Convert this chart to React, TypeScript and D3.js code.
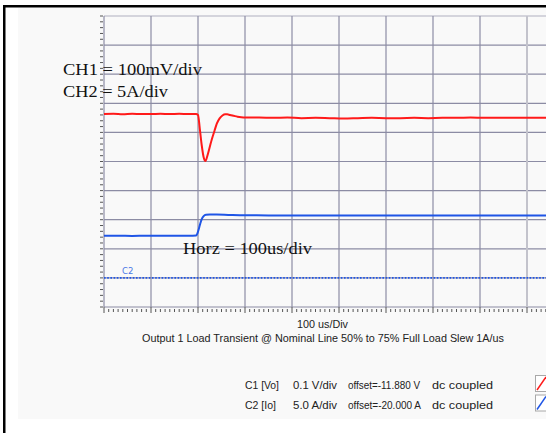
import React from "react";
import * as d3 from "d3";

const W = 546;
const H = 433;

// time in microseconds (100 us/div)
const redTime = [0, 20, 40, 60, 80, 100, 120, 140, 160, 180, 196, 200, 204, 208, 212, 216, 220, 225, 229, 235, 240, 246, 252, 258, 262, 268, 276, 284, 292, 300, 330, 360, 390, 420, 450, 480, 510, 540, 570, 600, 630, 660, 690, 720, 750, 780, 810, 840, 870, 900, 950, 1000];
const redVolt = [12.043, 12.044, 12.042, 12.044, 12.043, 12.043, 12.044, 12.043, 12.044, 12.043, 12.043, 12.040, 11.99, 11.935, 11.895, 11.882, 11.9, 11.93, 11.954, 11.985, 12.01, 12.028, 12.038, 12.042, 12.042, 12.04, 12.037, 12.034, 12.032, 12.031, 12.031, 12.03, 12.031, 12.029, 12.03, 12.029, 12.028, 12.029, 12.03, 12.029, 12.029, 12.03, 12.029, 12.03, 12.03, 12.031, 12.03, 12.03, 12.03, 12.03, 12.03, 12.03];

const blueTime = [0, 30, 60, 90, 120, 150, 180, 196, 199, 202, 205, 208, 212, 217, 225, 240, 270, 300, 350, 400, 450, 500, 550, 600, 650, 700, 750, 800, 850, 900, 950, 1000];
const blueAmp = [7.25, 7.25, 7.22, 7.25, 7.24, 7.25, 7.26, 7.3, 7.7, 8.5, 9.4, 10.1, 10.6, 10.85, 10.9, 10.88, 10.8, 10.75, 10.74, 10.72, 10.73, 10.72, 10.74, 10.73, 10.72, 10.73, 10.74, 10.73, 10.72, 10.73, 10.73, 10.73];

const ch1Center = 11.88; // V at screen centre
const ch1PerDiv = 0.1;
const ch2Center = 20; // A at screen centre
const ch2PerDiv = 5;

const legendRows = [
  { ch: "C1 [Vo]", scale: "0.1 V/div", offset: "offset=-11.880 V", coupling: "dc coupled", color: "#ff1a1a", chLen: 34, offLen: 72 },
  { ch: "C2 [Io]", scale: "5.0 A/div", offset: "offset=-20.000 A", coupling: "dc coupled", color: "#1f55e6", chLen: 31, offLen: 73 },
];

const annotations = [
  { text: "CH1 = 100mV/div", x: 63, y: 74.5, len: 139 },
  { text: "CH2 = 5A/div", x: 63, y: 96.5, len: 105 },
  { text: "Horz = 100us/div", x: 183, y: 254, len: 129 },
];

export default function App() {
  const left = 104;
  const top = 16;
  const bottom = 307;
  const divW = 47;
  const divs = 10;

  const x = d3.scaleLinear().domain([0, 1000]).range([left, left + divW * 10]);
  const yDiv = d3.scaleLinear().domain([0, divs]).range([bottom, top]);
  const yV = d3.scaleLinear().domain([ch1Center - 5 * ch1PerDiv, ch1Center + 5 * ch1PerDiv]).range([bottom, top]);
  const yA = d3.scaleLinear().domain([ch2Center - 5 * ch2PerDiv, ch2Center + 5 * ch2PerDiv]).range([bottom, top]);

  const redLine = d3.line<number>().x((_, i) => x(redTime[i])).y((v) => yV(v)).curve(d3.curveMonotoneX);
  const blueLine = d3.line<number>().x((_, i) => x(blueTime[i])).y((v) => yA(v)).curve(d3.curveMonotoneX);

  const vTicks = d3.range(0, 11).map((i) => i * 100);
  const hTicks = d3.range(0, 11);
  const xMinor = d3.range(0, 1000, 10);
  const yMinor = d3.range(0, 10.001, 0.2);

  const gridColor = "#8c8ca4";
  const tickColor = "#555";

  return (
    <svg width={W} height={H} style={{ position: "absolute", left: 0, top: 0, display: "block", background: "#fff" }}>
      {/* panel */}
      <rect x={18} y={8} width={W - 18} height={411} fill="#f9f9f9" />
      {/* frame */}
      <rect x={3} y={5} width={W - 3} height={2.5} fill="#000" />
      <rect x={3} y={5} width={2.5} height={H - 5} fill="#000" />

      {/* grid */}
      <clipPath id="plotclip">
        <rect x={left - 6} y={top - 1} width={W - left + 6} height={bottom - top + 8} />
      </clipPath>
      <g clipPath="url(#plotclip)">
        {hTicks.map((d) => (
          <line key={"h" + d} x1={left} x2={W} y1={yDiv(d)} y2={yDiv(d)} stroke={d === 10 ? "#b0b0c0" : gridColor} strokeWidth={1.2} />
        ))}
        {vTicks.map((t) => (
          <line key={"v" + t} x1={x(t)} x2={x(t)} y1={top} y2={bottom} stroke={t === 900 ? "#c3c3cc" : gridColor} strokeWidth={t === 900 ? 2 : 1.2} />
        ))}
        {/* left axis minor ticks */}
        {yMinor.map((d, i) => (
          <line key={"ym" + i} x1={100} x2={103} y1={yDiv(d)} y2={yDiv(d)} stroke={tickColor} strokeWidth={1} />
        ))}
        {/* bottom axis ticks */}
        {xMinor.map((t) => (
          <line key={"xm" + t} x1={x(t)} x2={x(t)} y1={t % 100 === 0 ? bottom : 309} y2={t % 100 === 0 ? 313 : 312} stroke={tickColor} strokeWidth={1} />
        ))}

        {/* C2 ground marker */}
        <line x1={left} x2={W} y1={yA(0)} y2={yA(0)} stroke="#1f55e6" strokeWidth={1.6} strokeDasharray="1.6 1.6" />

        {/* traces */}
        <path d={redLine(redVolt) || ""} fill="none" stroke="#ff1a1a" strokeWidth={2} strokeLinejoin="round" />
        <path d={blueLine(blueAmp) || ""} fill="none" stroke="#1f55e6" strokeWidth={2} strokeLinejoin="round" />
      </g>
      <text x={122} y={274} fontFamily="DejaVu Sans, sans-serif" fontSize={8.5} fill="#4a78e6">C2</text>

      {/* annotations */}
      {annotations.map((a) => (
        <text key={a.text} x={a.x} y={a.y} fontFamily="Liberation Serif, serif" fontSize={17} fill="#111" textLength={a.len} lengthAdjust="spacingAndGlyphs">
          {a.text}
        </text>
      ))}

      {/* axis captions */}
      <text x={322.5} y={328} textAnchor="middle" fontFamily="Liberation Sans, sans-serif" fontSize={11} fill="#222" textLength={51} lengthAdjust="spacingAndGlyphs">100 us/Div</text>
      <text x={323} y={342} textAnchor="middle" fontFamily="Liberation Sans, sans-serif" fontSize={11} fill="#222" textLength={362} lengthAdjust="spacingAndGlyphs">Output 1 Load Transient @ Nominal Line 50% to 75% Full Load Slew 1A/us</text>

      {/* legend */}
      {legendRows.map((r, i) => {
        const y = 389 + i * 19.5;
        return (
          <g key={r.ch} fontFamily="Liberation Sans, sans-serif" fontSize={11.5} fill="#222">
            <text x={245} y={y} textLength={r.chLen} lengthAdjust="spacingAndGlyphs">{r.ch}</text>
            <text x={293} y={y} textLength={44} lengthAdjust="spacingAndGlyphs">{r.scale}</text>
            <text x={348} y={y} textLength={r.offLen} lengthAdjust="spacingAndGlyphs">{r.offset}</text>
            <text x={432} y={y} textLength={61} lengthAdjust="spacingAndGlyphs">{r.coupling}</text>
            <rect x={535.5} y={y - 13.5} width={16} height={16} fill="#fff" stroke="#a8a8a8" strokeWidth={1} />
            <line x1={537} x2={546} y1={y + 1} y2={y - 12} stroke={r.color} strokeWidth={1.5} />
          </g>
        );
      })}
    </svg>
  );
}
